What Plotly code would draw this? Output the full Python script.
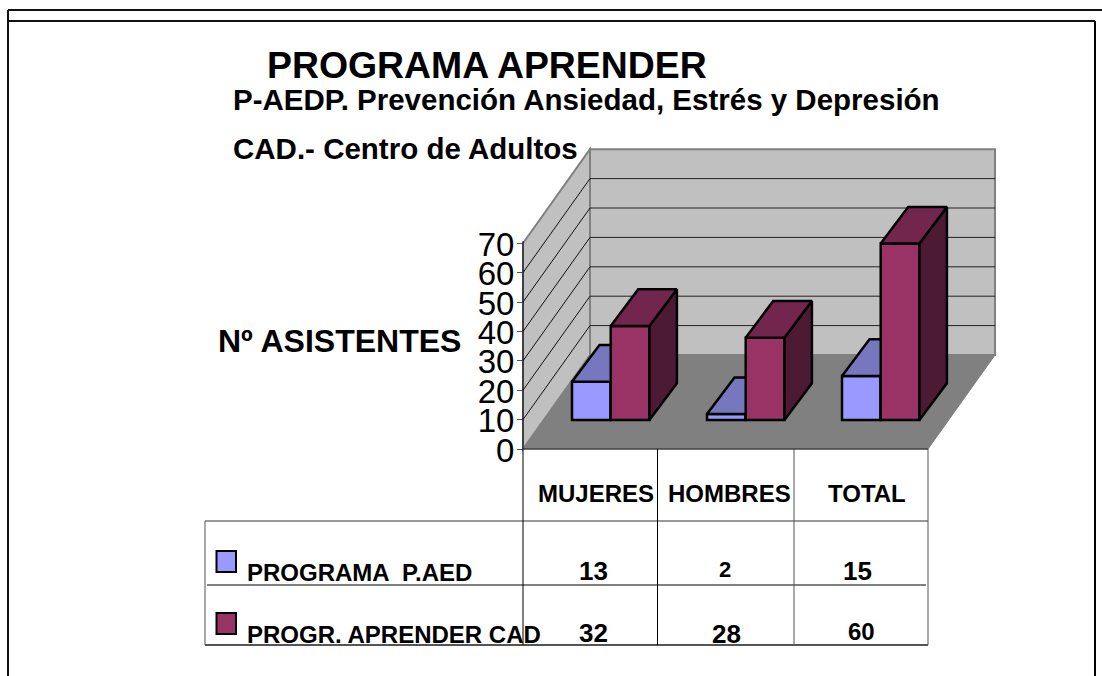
import plotly.graph_objects as go

# ---- data ----
categories = ["MUJERES", "HOMBRES", "TOTAL"]
series_names = ["PROGRAMA  P.AED", "PROGR. APRENDER CAD"]
aed_values = [13, 2, 15]
cad_values = [32, 28, 60]
y_ticks = [0, 10, 20, 30, 40, 50, 60, 70]
title_main = "PROGRAMA APRENDER"
title_sub = "P-AEDP. Prevención Ansiedad, Estrés y Depresión"
title_cad = "CAD.- Centro de Adultos"
y_title = "Nº ASISTENTES"

# ---- geometry ----
W, H = 1102, 676
PX_CAT = 135.0          # px per category
PX_VAL = 2.94           # px per value unit
LEFT_PX, ZERO_PX = 523.0, 449.0
FONT = "Liberation Sans, Arial, sans-serif"
BLUE, BLUE_TOP, BLUE_SIDE = "#9999FF", "#7777BF", "#4D4D80"
RED, RED_TOP, RED_SIDE = "#993366", "#73264D", "#4D1A33"
xr = [-0.5 - LEFT_PX / PX_CAT, -0.5 + (W - LEFT_PX) / PX_CAT]
yr = [(ZERO_PX - H) / PX_VAL, ZERO_PX / PX_VAL]

BAR_W = 38.7 / PX_CAT
GROUP_START = 0.363
BASE = 29 / PX_VAL               # bars stand part-way into the floor
DX, DY = 27.5 / PX_CAT, 36.7 / PX_VAL   # bar depth
WALL_DX, WALL_DY = 67 / PX_CAT, 94 / PX_VAL  # chart depth
TOP = y_ticks[-1]
XL, XR = -0.5, 2.5


def face_traces(vals, slot, top_col, side_col, xa, ya):
    tx, ty, sx, sy = [], [], [], []
    for i, v in enumerate(vals):
        x0 = i - 0.5 + GROUP_START + slot * BAR_W
        x1 = x0 + BAR_W
        yt = BASE + v
        tx += [x0, x1, x1 + DX, x0 + DX, x0, None]
        ty += [yt, yt, yt + DY, yt + DY, yt, None]
        sx += [x1, x1 + DX, x1 + DX, x1, x1, None]
        sy += [BASE, BASE + DY, yt + DY, yt, BASE, None]
    return [
        go.Scatter(x=sx, y=sy, mode="lines", fill="toself", fillcolor=side_col,
                   line=dict(color="black", width=2.5), hoverinfo="skip", xaxis=xa, yaxis=ya),
        go.Scatter(x=tx, y=ty, mode="lines", fill="toself", fillcolor=top_col,
                   line=dict(color="black", width=2.5), hoverinfo="skip", xaxis=xa, yaxis=ya),
    ]


def bar_trace(vals, slot, col, name, xa, ya):
    return go.Bar(
        x=[i - 0.5 + GROUP_START + (slot + 0.5) * BAR_W for i in range(len(vals))],
        y=vals, base=[BASE] * len(vals), width=BAR_W, name=name,
        marker=dict(color=col, line=dict(color="black", width=2.5)), xaxis=xa, yaxis=ya,
    )


fig = go.Figure()
fig.add_trace(bar_trace(aed_values, 0, BLUE, series_names[0], "x", "y"))
for t in face_traces(aed_values, 0, BLUE_TOP, BLUE_SIDE, "x", "y"):
    fig.add_trace(t)
fig.add_trace(bar_trace(cad_values, 1, RED, series_names[1], "x2", "y2"))
for t in face_traces(cad_values, 1, RED_TOP, RED_SIDE, "x2", "y2"):
    fig.add_trace(t)

shapes = []


def poly(pts, fill, line="#808080", width=2):
    path = "M " + " L ".join(f"{x},{y}" for x, y in pts) + " Z"
    shapes.append(dict(type="path", path=path, xref="x", yref="y", layer="below",
                       fillcolor=fill, line=dict(color=line, width=width)))


# walls and floor
poly([(XL, 0), (XL + WALL_DX, WALL_DY), (XL + WALL_DX, TOP + WALL_DY), (XL, TOP)], "#C0C0C0")
poly([(XL + WALL_DX, WALL_DY), (XR + WALL_DX, WALL_DY), (XR + WALL_DX, TOP + WALL_DY),
      (XL + WALL_DX, TOP + WALL_DY)], "#C0C0C0")
poly([(XL, 0), (XR, 0), (XR + WALL_DX, WALL_DY), (XL + WALL_DX, WALL_DY)], "#808080", "#808080", 1)
for v in y_ticks[1:-1]:
    shapes.append(dict(type="line", xref="x", yref="y", layer="below", x0=XL, y0=v,
                       x1=XL + WALL_DX, y1=v + WALL_DY, line=dict(color="#111111", width=1)))
    shapes.append(dict(type="line", xref="x", yref="y", layer="below", x0=XL + WALL_DX,
                       y0=v + WALL_DY, x1=XR + WALL_DX, y1=v + WALL_DY,
                       line=dict(color="#222222", width=1)))


def pline(x0, y0, x1, y1, color="black", width=1):
    shapes.append(dict(type="line", xref="paper", yref="paper", x0=x0 / W, x1=x1 / W,
                       y0=1 - y0 / H, y1=1 - y1 / H, line=dict(color=color, width=width)))


# outer frame
pline(8, 10, W, 10, "#111111", 2)
pline(8, 21, 1095, 21, "#111111", 2)
pline(8, 10, 8, H, "#111111", 2)
pline(1095, 21, 1095, H, "black", 2)

# data table grid
pline(205, 521, 928, 521, "#333333")
pline(207, 585, 926, 585, "black")
pline(205, 645, 928, 645, "#555555", 2)
pline(205, 521, 205, 645, "#555555")
pline(523, 241, 523, 645, "black")
pline(657.5, 449, 657.5, 645, "black")
pline(794, 449, 794, 645, "#555555")
pline(928, 449, 928, 645, "#555555")
pline(523, 449, 928, 449, "#222222")


def legend_box(y0, y1, col):
    shapes.append(dict(type="rect", xref="paper", yref="paper", x0=216.5 / W, x1=236 / W,
                       y0=1 - y0 / H, y1=1 - y1 / H, fillcolor=col,
                       line=dict(color="black", width=2)))


legend_box(551, 572, BLUE)
legend_box(613, 634, RED)

ann = []


def text(s, x, y, size, anchor="left"):
    ann.append(dict(text=s, x=x / W, y=1 - y / H, xref="paper", yref="paper", xanchor=anchor,
                    yanchor="middle", showarrow=False, borderpad=0,
                    font=dict(family=FONT, size=size, color="black", weight=700)))


text(title_main, 266, 65, 37.4)
text(title_sub, 232, 100, 29.5)
text(title_cad, 232, 149, 29.5)
text(y_title, 217, 341, 32)

cat_x = [595.5, 729.5, 866.5]
for c, x in zip(categories, cat_x):
    text(c, x, 494, 24, "center")
text(series_names[0], 246, 572, 24)
text(series_names[1], 246, 634, 24)
row1_x, row2_x = [593, 725, 857], [593, 727, 861]
row1_y, row1_s = [571, 569, 571], [26, 22, 26]
row2_y, row2_s = [633, 634, 631], [26, 26, 24]
for v, x, y, s in zip(aed_values, row1_x, row1_y, row1_s):
    text(str(v), x, y, s, "center")
for v, x, y, s in zip(cad_values, row2_x, row2_y, row2_s):
    text(str(v), x, y, s, "center")

fig.update_layout(
    width=W, height=H, margin=dict(l=0, r=0, t=0, b=0), autosize=False,
    paper_bgcolor="white", plot_bgcolor="white", showlegend=False,
    shapes=shapes, annotations=ann, barmode="overlay",
    xaxis=dict(range=xr, visible=False, domain=[0, 1], fixedrange=True),
    yaxis=dict(range=yr, domain=[0, 1], anchor="free", position=LEFT_PX / W, tickmode="array",
               tickvals=y_ticks, ticks="outside", ticklen=6, tickcolor="#555555", tickwidth=1,
               showgrid=False, zeroline=False, showline=False, fixedrange=True,
               ticklabelstandoff=-4, ticklabelshift=1,
               tickfont=dict(family=FONT, size=33, color="black")),
    xaxis2=dict(range=xr, visible=False, overlaying="x", matches="x"),
    yaxis2=dict(range=yr, visible=False, overlaying="y", matches="y"),
)

fig.write_html("out.html", config={"displayModeBar": False},
               post_script="document.body.style.margin='0';document.body.style.overflow='hidden';")
